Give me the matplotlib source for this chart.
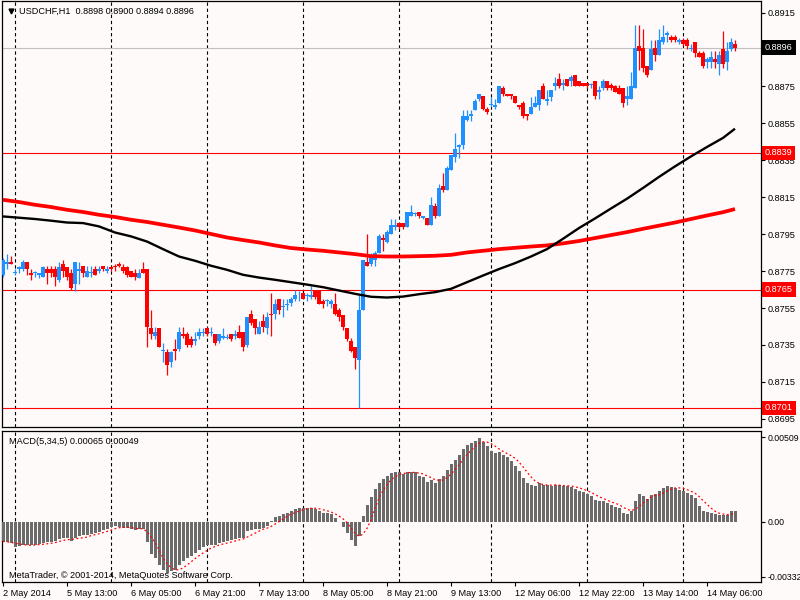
import matplotlib
matplotlib.use("Agg")
import matplotlib.pyplot as plt
import matplotlib.transforms as mtransforms
import numpy as np
import pandas as pd

SYMBOL = "USDCHF,H1"

# hourly sessions in view: first bar is 2 May 20:00, 9 May closes one bar early
session_days = ["2014-05-02", "2014-05-05", "2014-05-06", "2014-05-07", "2014-05-08",
                "2014-05-09", "2014-05-12", "2014-05-13", "2014-05-14"]
session_first_hour = [20, 0, 0, 0, 0, 0, 0, 0, 0]
session_bars = [3, 24, 24, 24, 24, 23, 24, 24, 14]

opens = [
    0.8773, 0.8779, 0.8780, 0.8774, 0.8776, 0.8776, 0.8780, 0.8774, 0.8774, 0.8773,
    0.8772, 0.8776, 0.8776, 0.8776, 0.8770, 0.8779, 0.8777, 0.8774, 0.8768, 0.8775,
    0.8778, 0.8772, 0.8774, 0.8776, 0.8775, 0.8778, 0.8775, 0.8777, 0.8778, 0.8779,
    0.8777, 0.8777, 0.8775, 0.8774, 0.8771, 0.8776, 0.8776, 0.8744, 0.8740, 0.8744,
    0.8732, 0.8731, 0.8726, 0.8733, 0.8733, 0.8741, 0.8741, 0.8738, 0.8737, 0.8740,
    0.8742, 0.8744, 0.8742, 0.8741, 0.8737, 0.8739, 0.8739, 0.8741, 0.8740, 0.8742,
    0.8742, 0.8735, 0.8752, 0.8749, 0.8741, 0.8748, 0.8744, 0.8752, 0.8752, 0.8760,
    0.8756, 0.8757, 0.8758, 0.8760, 0.8761, 0.8763, 0.8762, 0.8761, 0.8764, 0.8764,
    0.8759, 0.8759, 0.8757, 0.8757, 0.8754, 0.8751, 0.8744, 0.8737, 0.8734, 0.8727,
    0.8754, 0.8780, 0.8779, 0.8781, 0.8785, 0.8793, 0.8791, 0.8795, 0.8799, 0.8801,
    0.8801, 0.8799, 0.8805, 0.8806, 0.8807, 0.8804, 0.8804, 0.8800, 0.8810, 0.8805,
    0.8821, 0.8819, 0.8830, 0.8837, 0.8842, 0.8843, 0.8857, 0.8859, 0.8862, 0.8868,
    0.8870, 0.8863, 0.8865, 0.8864, 0.8866, 0.8874, 0.8871, 0.8871, 0.8870, 0.8865,
    0.8866, 0.8860, 0.8860, 0.8864, 0.8865, 0.8875, 0.8867, 0.8869, 0.8875, 0.8879,
    0.8876, 0.8879, 0.8878, 0.8881, 0.8878, 0.8877, 0.8877, 0.8876, 0.8878, 0.8872,
    0.8874, 0.8878, 0.8876, 0.8875, 0.8874, 0.8874, 0.8868, 0.8868, 0.8874, 0.8897,
    0.8896, 0.8886, 0.8884, 0.8896, 0.8892, 0.8899, 0.8903, 0.8902, 0.8902, 0.8899,
    0.8900, 0.8900, 0.8895, 0.8899, 0.8893, 0.8893, 0.8888, 0.8888, 0.8890, 0.8887,
    0.8895, 0.8888, 0.8895, 0.8898,
]
highs = [
    0.8782, 0.8784, 0.8783, 0.8776, 0.8778, 0.8781, 0.8780, 0.8776, 0.8775, 0.8774,
    0.8778, 0.8778, 0.8778, 0.8778, 0.8780, 0.8781, 0.8777, 0.8776, 0.8780, 0.8780,
    0.8778, 0.8778, 0.8778, 0.8778, 0.8778, 0.8778, 0.8778, 0.8778, 0.8779, 0.8780,
    0.8779, 0.8778, 0.8775, 0.8776, 0.8776, 0.8780, 0.8776, 0.8754, 0.8745, 0.8744,
    0.8736, 0.8733, 0.8732, 0.8738, 0.8745, 0.8745, 0.8742, 0.8740, 0.8742, 0.8744,
    0.8744, 0.8745, 0.8745, 0.8741, 0.8741, 0.8744, 0.8741, 0.8741, 0.8743, 0.8746,
    0.8742, 0.8750, 0.8754, 0.8749, 0.8748, 0.8752, 0.8753, 0.8763, 0.8760, 0.8760,
    0.8760, 0.8760, 0.8761, 0.8765, 0.8764, 0.8763, 0.8763, 0.8767, 0.8764, 0.8764,
    0.8760, 0.8760, 0.8760, 0.8763, 0.8755, 0.8751, 0.8744, 0.8739, 0.8734, 0.8762,
    0.8781, 0.8795, 0.8785, 0.8786, 0.8795, 0.8795, 0.8797, 0.8803, 0.8803, 0.8801,
    0.8801, 0.8807, 0.8811, 0.8807, 0.8807, 0.8805, 0.8804, 0.8815, 0.8812, 0.8822,
    0.8828, 0.8832, 0.8838, 0.8850, 0.8844, 0.8862, 0.8862, 0.8862, 0.8868, 0.8871,
    0.8870, 0.8864, 0.8869, 0.8868, 0.8875, 0.8875, 0.8871, 0.8871, 0.8870, 0.8865,
    0.8867, 0.8860, 0.8869, 0.8870, 0.8873, 0.8877, 0.8873, 0.8873, 0.8880, 0.8882,
    0.8879, 0.8879, 0.8881, 0.8881, 0.8878, 0.8877, 0.8877, 0.8877, 0.8878, 0.8875,
    0.8879, 0.8878, 0.8877, 0.8876, 0.8876, 0.8874, 0.8875, 0.8883, 0.8908, 0.8908,
    0.8906, 0.8886, 0.8900, 0.8900, 0.8906, 0.8908, 0.8905, 0.8903, 0.8903, 0.8901,
    0.8901, 0.8901, 0.8898, 0.8899, 0.8894, 0.8894, 0.8891, 0.8894, 0.8894, 0.8894,
    0.8905, 0.8899, 0.8901, 0.8900,
]
lows = [
    0.8772, 0.8776, 0.8779, 0.8773, 0.8774, 0.8775, 0.8773, 0.8770, 0.8772, 0.8771,
    0.8772, 0.8768, 0.8772, 0.8767, 0.8769, 0.8772, 0.8770, 0.8765, 0.8764, 0.8768,
    0.8772, 0.8772, 0.8772, 0.8773, 0.8774, 0.8775, 0.8774, 0.8775, 0.8775, 0.8777,
    0.8774, 0.8772, 0.8772, 0.8770, 0.8771, 0.8774, 0.8734, 0.8738, 0.8738, 0.8734,
    0.8726, 0.8719, 0.8723, 0.8727, 0.8732, 0.8739, 0.8734, 0.8734, 0.8735, 0.8738,
    0.8740, 0.8740, 0.8740, 0.8735, 0.8736, 0.8738, 0.8738, 0.8737, 0.8738, 0.8739,
    0.8732, 0.8734, 0.8746, 0.8741, 0.8741, 0.8742, 0.8741, 0.8740, 0.8749, 0.8752,
    0.8750, 0.8754, 0.8756, 0.8759, 0.8759, 0.8760, 0.8759, 0.8760, 0.8760, 0.8757,
    0.8755, 0.8756, 0.8755, 0.8751, 0.8748, 0.8743, 0.8737, 0.8731, 0.8722, 0.8701,
    0.8754, 0.8778, 0.8778, 0.8778, 0.8785, 0.8786, 0.8790, 0.8795, 0.8797, 0.8798,
    0.8798, 0.8799, 0.8805, 0.8805, 0.8804, 0.8803, 0.8800, 0.8800, 0.8804, 0.8805,
    0.8818, 0.8819, 0.8830, 0.8834, 0.8836, 0.8841, 0.8856, 0.8856, 0.8862, 0.8867,
    0.8862, 0.8860, 0.8864, 0.8863, 0.8866, 0.8870, 0.8870, 0.8868, 0.8866, 0.8863,
    0.8858, 0.8857, 0.8860, 0.8864, 0.8862, 0.8868, 0.8865, 0.8867, 0.8873, 0.8874,
    0.8873, 0.8875, 0.8875, 0.8875, 0.8875, 0.8875, 0.8874, 0.8874, 0.8868, 0.8868,
    0.8873, 0.8873, 0.8873, 0.8872, 0.8871, 0.8864, 0.8865, 0.8868, 0.8874, 0.8884,
    0.8883, 0.8880, 0.8884, 0.8889, 0.8892, 0.8898, 0.8899, 0.8899, 0.8899, 0.8898,
    0.8897, 0.8895, 0.8894, 0.8891, 0.8891, 0.8885, 0.8885, 0.8885, 0.8885, 0.8881,
    0.8885, 0.8884, 0.8894, 0.8894,
]
closes = [
    0.8781, 0.8780, 0.8779, 0.8774, 0.8777, 0.8780, 0.8776, 0.8773, 0.8774, 0.8774,
    0.8777, 0.8774, 0.8774, 0.8772, 0.8777, 0.8775, 0.8772, 0.8766, 0.8780, 0.8776,
    0.8774, 0.8775, 0.8774, 0.8773, 0.8776, 0.8776, 0.8776, 0.8776, 0.8777, 0.8778,
    0.8775, 0.8773, 0.8772, 0.8772, 0.8774, 0.8774, 0.8745, 0.8741, 0.8742, 0.8734,
    0.8732, 0.8724, 0.8731, 0.8732, 0.8742, 0.8740, 0.8735, 0.8735, 0.8738, 0.8742,
    0.8742, 0.8741, 0.8742, 0.8736, 0.8741, 0.8740, 0.8739, 0.8738, 0.8741, 0.8739,
    0.8734, 0.8750, 0.8747, 0.8744, 0.8745, 0.8745, 0.8750, 0.8751, 0.8757, 0.8754,
    0.8756, 0.8757, 0.8760, 0.8762, 0.8761, 0.8760, 0.8762, 0.8762, 0.8761, 0.8757,
    0.8757, 0.8759, 0.8759, 0.8752, 0.8750, 0.8745, 0.8738, 0.8732, 0.8728, 0.8754,
    0.8781, 0.8778, 0.8783, 0.8785, 0.8794, 0.8792, 0.8796, 0.8800, 0.8800, 0.8799,
    0.8799, 0.8807, 0.8807, 0.8806, 0.8805, 0.8805, 0.8800, 0.8811, 0.8805, 0.8820,
    0.8819, 0.8831, 0.8838, 0.8841, 0.8843, 0.8859, 0.8859, 0.8860, 0.8867, 0.8871,
    0.8863, 0.8861, 0.8865, 0.8865, 0.8875, 0.8871, 0.8870, 0.8870, 0.8866, 0.8864,
    0.8859, 0.8859, 0.8864, 0.8866, 0.8873, 0.8868, 0.8868, 0.8873, 0.8877, 0.8875,
    0.8877, 0.8875, 0.8880, 0.8875, 0.8875, 0.8875, 0.8875, 0.8876, 0.8870, 0.8873,
    0.8878, 0.8874, 0.8874, 0.8872, 0.8871, 0.8866, 0.8870, 0.8875, 0.8896, 0.8894,
    0.8885, 0.8881, 0.8895, 0.8892, 0.8900, 0.8902, 0.8904, 0.8900, 0.8900, 0.8900,
    0.8898, 0.8897, 0.8896, 0.8893, 0.8891, 0.8886, 0.8890, 0.8891, 0.8888, 0.8892,
    0.8887, 0.8894, 0.8899, 0.8896,
]

# moving averages every 4 bars (plus the last bar)
ma_bars = [0, 4, 8, 12, 16, 20, 24, 28, 32, 36, 40, 44, 48, 52, 56, 60, 64, 68, 72, 76,
           80, 84, 88, 92, 96, 100, 104, 108, 112, 116, 120, 124, 128, 132, 136, 140,
           144, 148, 152, 156, 160, 164, 168, 172, 176, 180, 183]
ma_red = [0.88136, 0.88124, 0.88109, 0.88097, 0.88082, 0.88070, 0.88055, 0.88043,
          0.88028, 0.88016, 0.88001, 0.87986, 0.87970, 0.87951, 0.87932, 0.87918,
          0.87905, 0.87889, 0.87875, 0.87867, 0.87860, 0.87851, 0.87842, 0.87831,
          0.87829, 0.87829, 0.87831, 0.87833, 0.87838, 0.87851, 0.87860, 0.87869,
          0.87876, 0.87883, 0.87889, 0.87900, 0.87913, 0.87929, 0.87945, 0.87961,
          0.87979, 0.87996, 0.88013, 0.88032, 0.88051, 0.88069, 0.88086]
ma_black = [0.88046, 0.88039, 0.88032, 0.88023, 0.88013, 0.88010, 0.87992, 0.87959,
            0.87938, 0.87910, 0.87869, 0.87829, 0.87806, 0.87779, 0.87757, 0.87730,
            0.87715, 0.87703, 0.87690, 0.87677, 0.87663, 0.87645, 0.87627, 0.87611,
            0.87607, 0.87612, 0.87625, 0.87636, 0.87654, 0.87690, 0.87726, 0.87761,
            0.87793, 0.87829, 0.87869, 0.87925, 0.87983, 0.88035, 0.88089, 0.88142,
            0.88200, 0.88260, 0.88317, 0.88371, 0.88422, 0.88471, 0.88521]

# MACD(5,34,5) main line
macd = [
    -0.00119, -0.00125, -0.00129, -0.00151, -0.00145, -0.00139, -0.00139, -0.00139, -0.00139, -0.00135,
    -0.00129, -0.00125, -0.00123, -0.00119, -0.00103, -0.00098, -0.00098, -0.00119, -0.00098, -0.00088,
    -0.00082, -0.00078, -0.00074, -0.00068, -0.00062, -0.00048, -0.00042, -0.00032, -0.00028, -0.00032,
    -0.00038, -0.00038, -0.00044, -0.00048, -0.00042, -0.00042, -0.00125, -0.00195, -0.00219, -0.00263,
    -0.00289, -0.00310, -0.00299, -0.00289, -0.00263, -0.00235, -0.00219, -0.00209, -0.00189, -0.00173,
    -0.00155, -0.00143, -0.00139, -0.00139, -0.00129, -0.00123, -0.00115, -0.00109, -0.00105, -0.00098,
    -0.00098, -0.00058, -0.00048, -0.00042, -0.00042, -0.00038, -0.00025, 0.00002, 0.00028, 0.00034,
    0.00044, 0.00052, 0.00066, 0.00076, 0.00082, 0.00082, 0.00082, 0.00082, 0.00078, 0.00066,
    0.00052, 0.00052, 0.00046, 0.00022, -0.00002, -0.00030, -0.00068, -0.00109, -0.00145, -0.00088,
    0.00036, 0.00103, 0.00149, 0.00197, 0.00233, 0.00259, 0.00277, 0.00293, 0.00297, 0.00297,
    0.00287, 0.00302, 0.00302, 0.00297, 0.00277, 0.00267, 0.00239, 0.00253, 0.00231, 0.00257,
    0.00277, 0.00314, 0.00348, 0.00374, 0.00400, 0.00438, 0.00460, 0.00476, 0.00488, 0.00505,
    0.00480, 0.00454, 0.00428, 0.00414, 0.00420, 0.00404, 0.00392, 0.00364, 0.00334, 0.00304,
    0.00263, 0.00233, 0.00219, 0.00213, 0.00231, 0.00223, 0.00219, 0.00215, 0.00223, 0.00219,
    0.00213, 0.00213, 0.00209, 0.00199, 0.00187, 0.00177, 0.00169, 0.00153, 0.00133, 0.00123,
    0.00127, 0.00113, 0.00103, 0.00090, 0.00082, 0.00052, 0.00048, 0.00062, 0.00127, 0.00167,
    0.00155, 0.00139, 0.00159, 0.00167, 0.00187, 0.00203, 0.00213, 0.00209, 0.00203, 0.00193,
    0.00187, 0.00173, 0.00163, 0.00143, 0.00096, 0.00064, 0.00058, 0.00052, 0.00046, 0.00038,
    0.00038, 0.00038, 0.00066, 0.00065,
]

# 0.8895 sits under the bid box, so it is left out
price_ticks = [0.8695, 0.8715, 0.8735, 0.8755, 0.8775, 0.8795, 0.8815,
               0.8835, 0.8855, 0.8875, 0.8915]
levels = [0.8839, 0.8765, 0.8701]
macd_marks = [-0.00332, 0.0, 0.00509]
macd_mark_labels = ["-0.00332", "0.00", "0.00509"]

BG = "#fffafa"
BULL = "#1e90ff"
BEAR = "#ff0000"

plt.rcParams["font.family"] = ["Liberation Sans", "DejaVu Sans"]
plt.rcParams["font.size"] = 6.6

# ---- bar times / labels ----
times = []
for d, h, n in zip(session_days, session_first_hour, session_bars):
    times += list(pd.date_range(pd.Timestamp(d) + pd.Timedelta(hours=h), periods=n, freq="h"))
n = len(times)
x = np.arange(n)
day_starts = [i for i, t in enumerate(times) if t.hour == 0]
label_idx = list(range(0, n, 16))
labels = [f"{times[i].day} {times[i]:%b %Y}" if k == 0 else f"{times[i].day} {times[i]:%b %H:%M}"
          for k, i in enumerate(label_idx)]

o, h_, l_, c = (np.array(v) for v in (opens, highs, lows, closes))
signal = pd.Series(macd).rolling(5, min_periods=1).mean().to_numpy()

fig = plt.figure(figsize=(8, 6), dpi=100, facecolor=BG)
ax = fig.add_axes([2 / 800, 173 / 600, 759 / 800, 426.5 / 600], facecolor=BG)
axm = fig.add_axes([2 / 800, 18 / 600, 759 / 800, 151 / 600], facecolor=BG)

for a in (ax, axm):
    a.set_xlim(-0.25, 189.5)
    for s in a.spines.values():
        s.set_color("black")
        s.set_linewidth(0.9)
    for d in day_starts:
        a.axvline(d, color="black", lw=0.8, ls=(0, (3, 2.5)), zorder=1)
    a.tick_params(axis="y", left=False, labelleft=False, right=True, labelright=True,
                  direction="out", length=3, width=0.8, pad=2, colors="black")

# ---- price panel ----
ax.set_ylim(0.86906, 0.89215)
for lv in levels:
    ax.axhline(lv, color="red", lw=0.8, zorder=2)
ax.axhline(c[-1], color="#c0c0c0", lw=0.8, zorder=2)

up = c >= o
cols = np.where(up, BULL, BEAR)
ax.vlines(x, l_, h_, colors=cols, lw=0.9, zorder=3)
body = np.abs(c - o)
pad = np.maximum(0.00005 - body, 0)
ax.bar(x, body + pad, bottom=np.minimum(o, c) - pad / 2, width=0.8, color=cols, lw=0,
       zorder=3)

ax.plot(ma_bars, ma_red, color="red", lw=2.7, zorder=4, solid_capstyle="butt")
ax.plot(ma_bars, ma_black, color="black", lw=1.7, zorder=4, solid_capstyle="butt")

ax.set_xticks([])
ax.set_yticks(price_ticks, [f"{v:.4f}" for v in price_ticks])

trans = mtransforms.blended_transform_factory(ax.transAxes, ax.transData)
for lv, fc in [(c[-1], "black")] + [(lv, "red") for lv in levels]:
    ax.text(1 + 4 / 759, lv, f"{lv:.4f}", transform=trans, ha="left", va="center",
            color="white", clip_on=False, zorder=6,
            bbox=dict(boxstyle="square,pad=0.3", fc=fc, ec="none"))

ax.plot([9 / 759], [1 - 10 / 426.5], marker="v", ms=3.5, color="black",
        transform=ax.transAxes, clip_on=False)
ax.text(17 / 759, 1 - 11 / 426.5,
        f"{SYMBOL}  {o[-1]:.4f} {h_[-1]:.4f} {l_[-1]:.4f} {c[-1]:.4f}",
        transform=ax.transAxes, ha="left", va="center", color="black")

# ---- MACD panel ----
axm.set_ylim(-0.003637, 0.00547)
axm.bar(x, macd, width=0.75, color="#6b6b6b", lw=0, zorder=3, antialiased=False)
axm.plot(x, signal, color="red", lw=0.9, ls=(0, (1.5, 2)), zorder=4)
axm.set_yticks(macd_marks, macd_mark_labels)
axm.tick_params(axis="y", pad=1.5, labelsize=6.3)
axm.set_xticks(label_idx, labels, ha="left")
axm.tick_params(axis="x", direction="out", length=3, width=0.8, pad=2, colors="black")
axm.text(7 / 759, 1 - 10 / 151, f"MACD(5,34,5) {macd[-1]:.5f} {signal[-1]:.5f}",
         transform=axm.transAxes, ha="left", va="center", color="black")
axm.text(7 / 759, 7 / 151, "MetaTrader, \u00a9 2001-2014, MetaQuotes Software Corp.",
         transform=axm.transAxes, ha="left", va="center", color="black", zorder=6)

fig.savefig("out.png", dpi=100, facecolor=BG)
